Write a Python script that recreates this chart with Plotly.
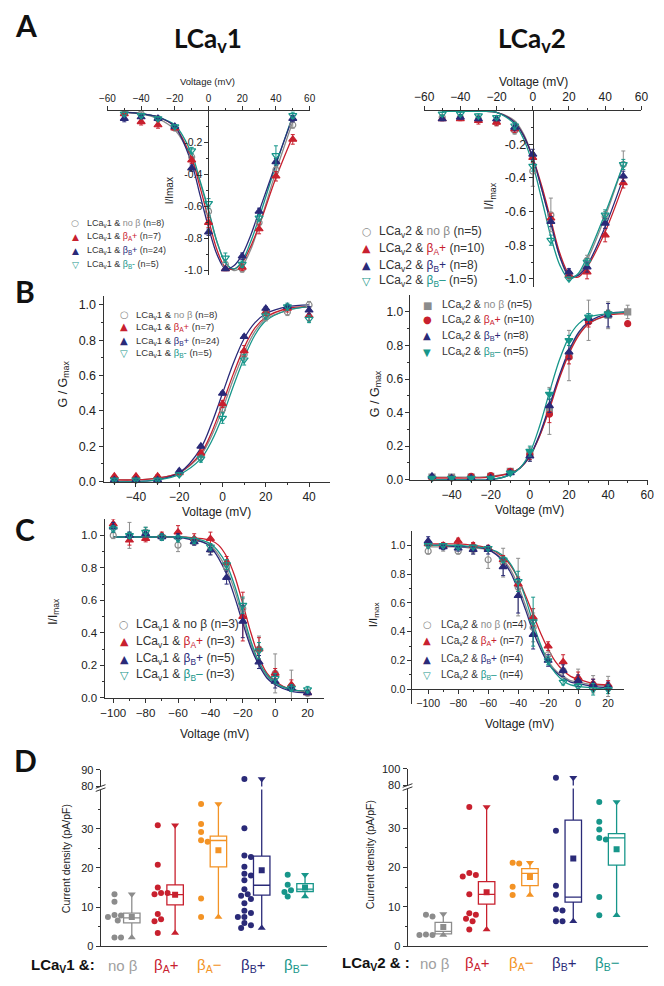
import plotly.graph_objects as go

W, H = 664, 986
FONT = "Liberation Sans, Arial, sans-serif"
BOLD = "Lato, Open Sans, sans-serif"
AX = "#333333"

GRAY = "#8c8c8c"
RED = "#c8202e"
ORANGE = "#f39325"
NAVY = "#2a2a78"
TEAL = "#17968a"

# ---------------- A: I-V curves ----------------
a_x = [-50, -40, -30, -20, -10, 0, 10, 20, 30, 40, 50]
a_cx = [-50, -40, -30, -20, -10, -5, 0, 5, 10, 15, 20, 25, 30, 40, 50]

a1_nob = [-0.02, -0.02, -0.05, -0.11, -0.29, -0.63, -0.96, -0.99, -0.70, -0.37, -0.09]
a1_bap = [-0.02, -0.07, -0.09, -0.11, -0.31, -0.70, -0.99, -0.98, -0.74, -0.41, -0.18]
a1_bbp = [-0.05, -0.04, -0.05, -0.10, -0.36, -0.76, -0.99, -0.91, -0.63, -0.32, -0.05]
a1_bbm = [-0.02, -0.03, -0.05, -0.10, -0.25, -0.58, -0.92, -0.96, -0.67, -0.28, -0.03]
a1_nob_e = [0.01, 0.01, 0.01, 0.01, 0.02, 0.03, 0.03, 0.02, 0.02, 0.02, 0.02]
a1_bap_e = [0.01, 0.02, 0.02, 0.01, 0.02, 0.03, 0.01, 0.02, 0.03, 0.03, 0.03]
a1_bbp_e = [0.02, 0.01, 0.01, 0.01, 0.02, 0.02, 0.01, 0.02, 0.02, 0.02, 0.02]
a1_bbm_e = [0.01, 0.01, 0.01, 0.01, 0.02, 0.03, 0.03, 0.02, 0.02, 0.06, 0.02]
a1_nob_fit = [-0.01, -0.02, -0.05, -0.12, -0.30, -0.45, -0.63, -0.82, -0.95, -1.0, -0.97, -0.87, -0.72, -0.38, -0.07]
a1_bap_fit = [-0.01, -0.02, -0.04, -0.10, -0.30, -0.48, -0.68, -0.87, -0.98, -0.99, -0.95, -0.85, -0.72, -0.42, -0.16]
a1_bbp_fit = [-0.01, -0.02, -0.04, -0.10, -0.33, -0.53, -0.73, -0.90, -0.99, -0.97, -0.90, -0.78, -0.63, -0.33, -0.04]
a1_bbm_fit = [-0.01, -0.02, -0.04, -0.09, -0.27, -0.44, -0.62, -0.82, -0.95, -0.99, -0.94, -0.82, -0.67, -0.34, -0.03]

a2_nob = [-0.04, -0.04, -0.05, -0.07, -0.12, -0.36, -0.62, -0.97, -0.89, -0.63, -0.32]
a2_bap = [-0.05, -0.05, -0.06, -0.07, -0.11, -0.28, -0.64, -0.98, -0.96, -0.74, -0.43]
a2_bbp = [-0.05, -0.04, -0.05, -0.05, -0.10, -0.26, -0.66, -0.96, -0.93, -0.67, -0.39]
a2_bbm = [-0.02, -0.02, -0.03, -0.04, -0.09, -0.33, -0.77, -1.0, -0.90, -0.62, -0.32]
a2_nob_e = [0.01, 0.01, 0.02, 0.02, 0.02, 0.09, 0.10, 0.02, 0.03, 0.03, 0.08]
a2_bap_e = [0.01, 0.01, 0.02, 0.02, 0.02, 0.03, 0.03, 0.02, 0.04, 0.04, 0.03]
a2_bbp_e = [0.01, 0.01, 0.01, 0.01, 0.02, 0.03, 0.03, 0.02, 0.03, 0.03, 0.03]
a2_bbm_e = [0.01, 0.01, 0.01, 0.01, 0.02, 0.03, 0.03, 0.01, 0.02, 0.03, 0.03]
a2_nob_fit = [-0.005, -0.005, -0.005, -0.01, -0.06, -0.14, -0.28, -0.47, -0.67, -0.87, -0.99, -0.98, -0.89, -0.63, -0.32]
a2_bap_fit = [-0.005, -0.005, -0.005, -0.01, -0.07, -0.15, -0.28, -0.45, -0.65, -0.85, -0.97, -0.99, -0.93, -0.72, -0.44]
a2_bbp_fit = [-0.005, -0.005, -0.005, -0.01, -0.07, -0.15, -0.28, -0.47, -0.67, -0.87, -0.98, -0.98, -0.92, -0.69, -0.40]
a2_bbm_fit = [-0.005, -0.005, -0.005, -0.01, -0.08, -0.17, -0.32, -0.53, -0.75, -0.92, -1.0, -0.97, -0.87, -0.61, -0.32]

# ---------------- B: activation ----------------
b1_x = [-50, -40, -30, -20, -10, 0, 10, 20, 30, 40]
b1_cx = [-50, -40, -30, -20, -10, -5, 0, 5, 10, 15, 20, 30, 40]
b1_nob = [0.01, 0.01, 0.01, 0.05, 0.14, 0.41, 0.72, 0.93, 0.96, 1.0]
b1_bap = [0.03, 0.03, 0.03, 0.05, 0.16, 0.44, 0.74, 0.96, 0.98, 0.94]
b1_bbp = [0.01, 0.01, 0.01, 0.06, 0.20, 0.50, 0.82, 0.98, 0.99, 0.97]
b1_bbm = [0.01, 0.01, 0.01, 0.04, 0.13, 0.36, 0.69, 0.94, 0.99, 0.92]
b1_nob_e = [0.005, 0.005, 0.005, 0.01, 0.02, 0.02, 0.03, 0.02, 0.02, 0.02]
b1_bap_e = [0.005, 0.005, 0.01, 0.01, 0.02, 0.02, 0.03, 0.02, 0.02, 0.03]
b1_bbp_e = [0.005, 0.005, 0.005, 0.01, 0.01, 0.01, 0.01, 0.01, 0.01, 0.02]
b1_bbm_e = [0.005, 0.005, 0.005, 0.01, 0.02, 0.03, 0.03, 0.02, 0.02, 0.02]
b1_nob_fit = [0.01, 0.01, 0.02, 0.05, 0.15, 0.26, 0.41, 0.58, 0.73, 0.85, 0.92, 0.97, 0.99]
b1_bap_fit = [0.01, 0.01, 0.02, 0.05, 0.16, 0.28, 0.44, 0.61, 0.76, 0.87, 0.93, 0.98, 0.99]
b1_bbp_fit = [0.0, 0.0, 0.01, 0.05, 0.19, 0.33, 0.50, 0.67, 0.81, 0.90, 0.95, 0.99, 1.0]
b1_bbm_fit = [0.0, 0.0, 0.01, 0.04, 0.13, 0.23, 0.37, 0.54, 0.70, 0.83, 0.91, 0.97, 0.99]

b2_x_long = [-50, -40, -30, -20, -10, 0, 10, 20, 30, 40, 50]
b2_x_short = [-50, -40, -30, -20, -10, 0, 10, 20, 30, 40]
b2_cx = [-50, -40, -30, -20, -10, -5, 0, 5, 10, 15, 20, 25, 30, 40, 50]
b2_nob = [0.015, 0.015, 0.015, 0.02, 0.05, 0.15, 0.41, 0.74, 0.95, 0.98, 1.0]
b2_bap = [0.01, 0.01, 0.02, 0.025, 0.05, 0.15, 0.39, 0.73, 0.94, 0.99, 0.93]
b2_bbp = [0.02, 0.01, 0.01, 0.01, 0.04, 0.14, 0.44, 0.76, 0.96, 0.98]
b2_bbm = [0.01, 0.01, 0.01, 0.01, 0.04, 0.17, 0.51, 0.83, 0.97, 0.99]
b2_nob_e = [0.005, 0.005, 0.005, 0.005, 0.01, 0.04, 0.14, 0.15, 0.12, 0.08, 0.04]
b2_bap_e = [0.005, 0.005, 0.005, 0.005, 0.01, 0.03, 0.05, 0.04, 0.03, 0.02, 0.0]
b2_bbp_e = [0.005, 0.005, 0.005, 0.005, 0.01, 0.03, 0.04, 0.04, 0.03, 0.07]
b2_bbm_e = [0.005, 0.005, 0.005, 0.005, 0.01, 0.03, 0.03, 0.03, 0.02, 0.02]
b2_nob_fit = [0.015, 0.015, 0.015, 0.02, 0.04, 0.07, 0.14, 0.26, 0.43, 0.61, 0.76, 0.87, 0.93, 0.98, 1.0]
b2_bap_fit = [0.01, 0.01, 0.01, 0.015, 0.04, 0.07, 0.14, 0.26, 0.42, 0.60, 0.75, 0.86, 0.93, 0.98, 0.99]
b2_bbp_fit = [0.0, 0.0, 0.0, 0.0, 0.03, 0.07, 0.14, 0.27, 0.44, 0.62, 0.77, 0.88, 0.94, 0.99, 1.0]
b2_bbm_fit = [0.0, 0.0, 0.0, 0.0, 0.03, 0.07, 0.16, 0.32, 0.52, 0.71, 0.85, 0.93, 0.97, 0.99, 1.0]

# ---------------- C: inactivation ----------------
c_x = [-100, -90, -80, -70, -60, -50, -40, -30, -20, -10, 0, 10, 20]
c_cx = [-100, -90, -80, -70, -60, -50, -45, -40, -35, -30, -25, -20, -15, -10, -5, 0, 10, 20]
c1_nob = [1.0, 1.0, 1.02, 0.99, 0.94, 0.96, 0.91, 0.80, 0.55, 0.30, 0.15, 0.07, 0.03]
c1_bap = [1.07, 0.97, 0.98, 1.0, 1.02, 0.98, 0.98, 0.83, 0.50, 0.30, 0.15, 0.08, 0.03]
c1_bbp = [1.05, 1.0, 1.01, 0.99, 0.99, 0.96, 0.91, 0.74, 0.47, 0.22, 0.10, 0.06, 0.03]
c1_bbm = [1.04, 1.0, 1.02, 0.99, 0.98, 0.97, 0.93, 0.82, 0.57, 0.29, 0.12, 0.06, 0.05]
c1_nob_e = [0.02, 0.08, 0.03, 0.02, 0.04, 0.02, 0.03, 0.05, 0.06, 0.08, 0.12, 0.10, 0.02]
c1_bap_e = [0.03, 0.03, 0.02, 0.02, 0.04, 0.03, 0.04, 0.04, 0.15, 0.07, 0.03, 0.03, 0.01]
c1_bbp_e = [0.03, 0.02, 0.02, 0.02, 0.02, 0.02, 0.03, 0.04, 0.10, 0.04, 0.04, 0.02, 0.01]
c1_bbm_e = [0.02, 0.02, 0.03, 0.02, 0.02, 0.02, 0.02, 0.03, 0.05, 0.05, 0.03, 0.02, 0.02]
c1_nob_fit = [0.99, 0.99, 0.99, 0.99, 0.99, 0.98, 0.96, 0.94, 0.88, 0.79, 0.66, 0.49, 0.33, 0.21, 0.13, 0.09, 0.05, 0.04]
c1_bap_fit = [0.99, 0.99, 0.99, 0.99, 0.99, 0.985, 0.98, 0.97, 0.94, 0.87, 0.75, 0.58, 0.40, 0.25, 0.15, 0.10, 0.05, 0.04]
c1_bbp_fit = [0.99, 0.99, 0.99, 0.99, 0.99, 0.97, 0.96, 0.93, 0.86, 0.76, 0.62, 0.46, 0.31, 0.20, 0.12, 0.08, 0.04, 0.03]
c1_bbm_fit = [0.99, 0.99, 0.99, 0.99, 0.99, 0.98, 0.97, 0.95, 0.90, 0.82, 0.69, 0.52, 0.35, 0.22, 0.14, 0.09, 0.05, 0.04]

c2_nob = [0.96, 0.99, 0.96, 0.97, 0.90, 0.88, 0.71, 0.43, 0.24, 0.13, 0.07, 0.035, 0.02]
c2_bap = [1.01, 1.0, 1.03, 1.0, 0.98, 0.90, 0.73, 0.50, 0.30, 0.19, 0.08, 0.04, 0.03]
c2_bbp = [1.03, 0.99, 0.98, 0.97, 0.97, 0.85, 0.65, 0.38, 0.20, 0.13, 0.06, 0.03, 0.02]
c2_bbm = [1.0, 1.0, 0.99, 0.99, 0.98, 0.90, 0.75, 0.47, 0.20, 0.05, 0.02, 0.0, 0.0]
c2_nob_e = [0.02, 0.03, 0.02, 0.03, 0.06, 0.10, 0.20, 0.10, 0.05, 0.05, 0.07, 0.06, 0.07]
c2_bap_e = [0.02, 0.02, 0.02, 0.02, 0.02, 0.03, 0.05, 0.06, 0.03, 0.05, 0.04, 0.03, 0.03]
c2_bbp_e = [0.03, 0.02, 0.02, 0.03, 0.03, 0.06, 0.12, 0.10, 0.04, 0.04, 0.04, 0.04, 0.03]
c2_bbm_e = [0.01, 0.01, 0.01, 0.01, 0.01, 0.02, 0.07, 0.17, 0.03, 0.02, 0.02, 0.04, 0.03]
c2_nob_fit = [0.99, 0.99, 0.99, 0.98, 0.97, 0.90, 0.83, 0.72, 0.58, 0.43, 0.30, 0.20, 0.13, 0.09, 0.06, 0.05, 0.03, 0.02]
c2_bap_fit = [1.01, 1.01, 1.01, 1.0, 0.98, 0.92, 0.86, 0.77, 0.65, 0.52, 0.39, 0.28, 0.19, 0.13, 0.09, 0.07, 0.04, 0.03]
c2_bbp_fit = [1.0, 1.0, 0.99, 0.99, 0.97, 0.89, 0.81, 0.69, 0.55, 0.40, 0.28, 0.18, 0.12, 0.08, 0.05, 0.04, 0.02, 0.01]
c2_bbm_fit = [1.0, 1.0, 1.0, 0.99, 0.98, 0.93, 0.87, 0.77, 0.63, 0.46, 0.31, 0.19, 0.11, 0.06, 0.03, 0.02, 0.01, 0.0]

# ---------------- D: current density ----------------
d_groups = ["no β", "β<sub>A</sub>+", "β<sub>A</sub>−", "β<sub>B</sub>+", "β<sub>B</sub>−"]
d_colors = [GRAY, RED, ORANGE, NAVY, TEAL]

d1_vals = [
    [13.3, 11.4, 8.0, 7.9, 7.5, 6.6, 2.3, 2.3],
    [30.9, 20.8, 15.0, 13.6, 13.3, 13.6, 8.3, 6.9, 6.4, 3.4],
    [36.3, 31.2, 29.2, 27.1, 26.7, 12.2, 7.5],
    [84.5, 30.1, 23.2, 22.8, 20.3, 18.5, 18.1, 16.9, 14.6, 13.3, 12.9, 12.1, 11.0,
     9.1, 8.5, 7.5, 7.5, 6.0, 5.4, 4.7],
    [18.3, 15.7, 14.3, 13.9, 12.7],
]
d1_q1 = [6.0, 10.6, 20.3, 13.1, 14.0]
d1_med = [7.3, 13.2, 27.0, 15.6, 14.6]
d1_q3 = [8.5, 15.7, 28.1, 23.0, 16.0]
d1_min = [2.3, 3.4, 7.5, 4.7, 12.7]
d1_max = [13.3, 30.9, 36.3, 84.5, 18.3]
d1_mean = [7.5, 13.2, 24.5, 19.4, 15.0]

d2_vals = [
    [8.0, 7.6, 3.0, 2.9, 2.9],
    [35.3, 18.6, 18.1, 17.7, 13.2, 8.4, 8.0, 7.0, 6.4, 4.3],
    [21.2, 21.0, 15.1, 13.0],
    [89.2, 29.3, 15.4, 13.1, 9.4, 9.1, 6.4, 6.4],
    [36.6, 31.6, 29.6, 27.5, 27.1, 12.5, 7.9],
]
d2_q1 = [3.2, 10.7, 15.4, 11.2, 20.6]
d2_med = [3.8, 13.2, 18.5, 12.5, 27.5]
d2_q3 = [6.1, 16.4, 19.7, 32.0, 28.6]
d2_min = [2.9, 4.3, 13.0, 6.4, 7.9]
d2_max = [8.2, 35.3, 21.2, 89.2, 36.6]
d2_mean = [4.9, 13.7, 17.6, 22.3, 24.6]


def fx(p):
    return p / W


def fy(p):
    return 1 - p / H


fig = go.Figure()


def curve(ax, x, y, color):
    fig.add_trace(go.Scatter(x=x, y=y, mode="lines", xaxis="x" + ax, yaxis="y" + ax,
                             line=dict(color=color, width=1.3, shape="spline", smoothing=0.9),
                             hoverinfo="skip", showlegend=False))


def points(ax, x, y, err, color, symbol, size=7):
    fig.add_trace(go.Scatter(x=x, y=y, mode="markers", xaxis="x" + ax, yaxis="y" + ax,
                             marker=dict(symbol=symbol, size=size, color=color,
                                         line=dict(color=color, width=1.2)),
                             error_y=dict(type="data", array=err, color=color, thickness=1, width=2),
                             cliponaxis=False, showlegend=False))


# A
for fit, c in [(a1_nob_fit, GRAY), (a1_bap_fit, RED), (a1_bbm_fit, TEAL), (a1_bbp_fit, NAVY)]:
    curve("", a_cx, fit, c)
points("", a_x, a1_nob, a1_nob_e, GRAY, "circle-open", 6)
points("", a_x, a1_bap, a1_bap_e, RED, "triangle-up")
points("", a_x, a1_bbp, a1_bbp_e, NAVY, "triangle-up")
points("", a_x, a1_bbm, a1_bbm_e, TEAL, "triangle-down-open")

for fit, c in [(a2_nob_fit, GRAY), (a2_bap_fit, RED), (a2_bbp_fit, NAVY), (a2_bbm_fit, TEAL)]:
    curve("2", a_cx, fit, c)
points("2", a_x, a2_nob, a2_nob_e, GRAY, "circle-open", 6)
points("2", a_x, a2_bap, a2_bap_e, RED, "triangle-up")
points("2", a_x, a2_bbp, a2_bbp_e, NAVY, "triangle-up")
points("2", a_x, a2_bbm, a2_bbm_e, TEAL, "triangle-down-open")

# B
for fit, c in [(b1_nob_fit, GRAY), (b1_bap_fit, RED), (b1_bbp_fit, NAVY), (b1_bbm_fit, TEAL)]:
    curve("3", b1_cx, fit, c)
points("3", b1_x, b1_nob, b1_nob_e, GRAY, "circle-open", 6)
points("3", b1_x, b1_bap, b1_bap_e, RED, "triangle-up")
points("3", b1_x, b1_bbp, b1_bbp_e, NAVY, "triangle-up")
points("3", b1_x, b1_bbm, b1_bbm_e, TEAL, "triangle-down-open")

for fit, c in [(b2_nob_fit, GRAY), (b2_bap_fit, RED), (b2_bbp_fit, NAVY), (b2_bbm_fit, TEAL)]:
    curve("4", b2_cx, fit, c)
points("4", b2_x_long, b2_nob, b2_nob_e, GRAY, "square", 6)
points("4", b2_x_long, b2_bap, b2_bap_e, RED, "circle", 6)
points("4", b2_x_short, b2_bbp, b2_bbp_e, NAVY, "triangle-up")
points("4", b2_x_short, b2_bbm, b2_bbm_e, TEAL, "triangle-down")

# C
for fit, c in [(c1_nob_fit, GRAY), (c1_bap_fit, RED), (c1_bbp_fit, NAVY), (c1_bbm_fit, TEAL)]:
    curve("5", c_cx, fit, c)
points("5", c_x, c1_nob, c1_nob_e, GRAY, "circle-open", 6)
points("5", c_x, c1_bap, c1_bap_e, RED, "triangle-up")
points("5", c_x, c1_bbp, c1_bbp_e, NAVY, "triangle-up")
points("5", c_x, c1_bbm, c1_bbm_e, TEAL, "triangle-down-open")

for fit, c in [(c2_nob_fit, GRAY), (c2_bap_fit, RED), (c2_bbp_fit, NAVY), (c2_bbm_fit, TEAL)]:
    curve("6", c_cx, fit, c)
points("6", c_x, c2_nob, c2_nob_e, GRAY, "circle-open", 6)
points("6", c_x, c2_bap, c2_bap_e, RED, "triangle-up")
points("6", c_x, c2_bbp, c2_bbp_e, NAVY, "triangle-up")
points("6", c_x, c2_bbm, c2_bbm_e, TEAL, "triangle-down-open")


# D: scatter dots in a simple beeswarm + box (quartiles, min/max whiskers, mean)
def swarm(values, unit_x, unit_y, diam=5.6):
    placed, offs = [], []
    step = diam * 0.6
    for v in values:
        yp = v * unit_y if v < 60 else 1e4 + v
        k = 0
        while True:
            o = ((k + 1) // 2) * step * (1 if k % 2 else -1)
            if all((o - a) ** 2 + (yp - b) ** 2 >= diam ** 2 for a, b in placed):
                break
            k += 1
        placed.append((o, yp))
        offs.append(o / unit_x)
    return offs


def panel_d(lo, hi, vals, q1, med, q3, mn, mx, mean, unit_x):
    for i, c in enumerate(d_colors):
        g = i + 1
        offs = swarm(vals[i], unit_x, 3.98)
        for ax in (lo, hi):
            keep = [(g - 0.2 + o, v) for o, v in zip(offs, vals[i]) if (v < 60) == (ax == lo)]
            if keep:
                fig.add_trace(go.Scatter(x=[k[0] for k in keep], y=[k[1] for k in keep], mode="markers",
                                         xaxis="x" + ax, yaxis="y" + ax, showlegend=False,
                                         marker=dict(symbol="circle", size=6, color=c)))
            fig.add_trace(go.Box(x=[g + 0.2], q1=[q1[i]], median=[med[i]], q3=[q3[i]],
                                 lowerfence=[mn[i]], upperfence=[mx[i]], width=0.38, whiskerwidth=0,
                                 line=dict(color=c, width=1.3), fillcolor="rgba(255,255,255,0.85)",
                                 boxpoints=False, xaxis="x" + ax, yaxis="y" + ax, showlegend=False))
            for val, sym in ((mx[i], "triangle-down"), (mn[i], "triangle-up")):
                if (val < 60) == (ax == lo):
                    fig.add_trace(go.Scatter(x=[g + 0.2], y=[val], mode="markers", xaxis="x" + ax,
                                             yaxis="y" + ax, showlegend=False, cliponaxis=False,
                                             marker=dict(symbol=sym, size=7, color=c)))
        fig.add_trace(go.Scatter(x=[g + 0.2], y=[mean[i]], mode="markers", xaxis="x" + lo,
                                 yaxis="y" + lo, showlegend=False,
                                 marker=dict(symbol="square", size=6, color=c)))


panel_d("7", "8", d1_vals, d1_q1, d1_med, d1_q3, d1_min, d1_max, d1_mean, 44.5)
panel_d("9", "10", d2_vals, d2_q1, d2_med, d2_q3, d2_min, d2_max, d2_mean, 44.4)


def axis(domain, rng, size=11, **kw):
    d = dict(domain=domain, range=rng, showline=True, linecolor=AX, linewidth=1, ticks="outside",
             ticklen=4, tickwidth=1, tickcolor=AX, showgrid=False, zeroline=False, fixedrange=True,
             tickfont=dict(family=FONT, size=size, color="#222"))
    d.update(kw)
    return d


def minor(vals):
    return dict(ticks="outside", ticklen=2, tickwidth=1, tickcolor=AX, showgrid=False,
                tickmode="array", tickvals=vals)


neg_vals = [-1.0, -0.8, -0.6, -0.4, -0.2]
neg_text = ["-1.0", "-0.8", "-0.6", "-0.4", "-0.2"]
neg_minor = [-0.9, -0.7, -0.5, -0.3, -0.1]
pos_vals = [0, 0.2, 0.4, 0.6, 0.8, 1.0]
pos_minor = [0.1, 0.3, 0.5, 0.7, 0.9]

layout = dict(
    width=W, height=H, margin=dict(l=0, r=0, t=0, b=0), paper_bgcolor="white",
    plot_bgcolor="rgba(0,0,0,0)", showlegend=False, font=dict(family=FONT, color="#222"),
    xaxis=axis([fx(100), fx(307.5)], [-60, 60], 10, anchor="y", side="top", tickmode="array",
               tickvals=[-60, -40, -20, 0, 20, 40, 60], minor=minor([-50, -30, -10, 10, 30, 50])),
    yaxis=axis([fy(273), fy(106)], [-1.03, 0], 10.5, anchor="free", position=fx(203.7), tickmode="array",
               tickvals=neg_vals, ticktext=neg_text, minor=minor(neg_minor)),
    xaxis2=axis([fx(425), fx(648)], [-60, 60], 12, anchor="y2", side="top", tickmode="array",
                tickvals=[-60, -40, -20, 0, 20, 40, 60], minor=minor([-50, -30, -10, 10, 30, 50])),
    yaxis2=axis([fy(285), fy(106)], [-1.05, 0], 12.5, anchor="free", position=fx(536.5), tickmode="array",
                tickvals=neg_vals, ticktext=neg_text, minor=minor(neg_minor)),
    xaxis3=axis([fx(96), fx(328)], [-55, 49.5], 12, anchor="y3", tickmode="array",
                tickvals=[-40, -20, 0, 20, 40], minor=minor([-50, -30, -10, 10, 30])),
    yaxis3=axis([fy(482), fy(294)], [0, 1.05], 12.5, anchor="x3", tickmode="array", tickvals=pos_vals,
                tickformat=".1f", minor=minor(pos_minor)),
    xaxis4=axis([fx(411), fx(655)], [-61, 60.5], 12, anchor="y4", tickmode="array",
                tickvals=[-40, -20, 0, 20, 40, 60], minor=minor([-50, -30, -10, 10, 30, 50])),
    yaxis4=axis([fy(480), fy(293)], [0, 1.1], 12, anchor="x4", tickmode="array", tickvals=pos_vals,
                tickformat=".1f", minor=minor(pos_minor)),
    xaxis5=axis([fx(97), fx(322)], [-105.4, 30], 11.5, anchor="y5", tickmode="array",
                tickvals=[-100, -80, -60, -40, -20, 0, 20], minor=minor([-90, -70, -50, -30, -10, 10])),
    yaxis5=axis([fy(701), fy(520)], [0, 1.1], 11.5, anchor="x5", tickmode="array", tickvals=pos_vals,
                tickformat=".1f", minor=minor(pos_minor)),
    xaxis6=axis([fx(413), fx(630)], [-110.5, 30.5], 10.5, anchor="free", position=fy(692.4), tickmode="array",
                tickvals=[-100, -80, -60, -40, -20, 0, 20], minor=minor([-90, -70, -50, -30, -10, 10])),
    yaxis6=axis([fy(707), fy(532)], [-0.1, 1.1], 10.5, anchor="x6", tickmode="array", tickvals=pos_vals,
                tickformat=".1f", minor=minor(pos_minor)),
    xaxis7=axis([fx(93), fx(325)], [0.48, 5.7], anchor="y7", ticks="", showticklabels=False),
    yaxis7=axis([fy(953), fy(794)], [0, 40], 11, anchor="x7", tickmode="array", tickvals=[0, 10, 20, 30],
                minor=minor([5, 15, 25, 35])),
    xaxis8=axis([fx(93), fx(325)], [0.48, 5.7], anchor="y8", visible=False),
    yaxis8=axis([fy(791), fy(774)], [80, 90], 11, anchor="x8", tickmode="array", tickvals=[80, 90]),
    xaxis9=axis([fx(408), fx(655)], [0.375, 5.93], anchor="y9", ticks="", showticklabels=False),
    yaxis9=axis([fy(953), fy(793)], [0, 40], 11, anchor="x9", tickmode="array", tickvals=[0, 10, 20, 30],
                minor=minor([5, 15, 25, 35])),
    xaxis10=axis([fx(408), fx(655)], [0.375, 5.93], anchor="y10", visible=False),
    yaxis10=axis([fy(790), fy(773)], [80, 100], 11, anchor="x10", tickmode="array", tickvals=[80, 100]),
)

ann = []


def note(text, x, y, size, color="#222", xanchor="center", angle=0, family=FONT, xref="paper"):
    ann.append(dict(text=text, x=fx(x) if xref == "paper" else x, y=fy(y), xref=xref, yref="paper",
                    showarrow=False, xanchor=xanchor, yanchor="middle", textangle=angle,
                    font=dict(family=family, size=size, color=color)))


# panel letters & titles
for letter, x, y in [("A", 3, 19), ("B", 3, 289), ("C", 3, 530), ("D", 2, 764)]:
    note(f"<b>{letter}</b>", x, y, 30, "#111", xanchor="left", family=BOLD)
note("<b>LCa<sub>v</sub>1</b>", 203, 34, 26, "#111", family=BOLD)
note("<b>LCa<sub>v</sub>2</b>", 536, 34, 26, "#111", family=BOLD)

# axis titles
note("Voltage (mV)", 203, 77, 9.5)
note("Voltage (mV)", 537, 77, 12)
note("I/Imax", 164, 187, 10, angle=-90)
note("I/I<sub>max</sub>", 493, 192, 12.5, angle=-90)
note("G / G<sub>max</sub>", 55, 383, 12.5, angle=-90)
note("Voltage (mV)", 212, 513, 12)
note("G / G<sub>max</sub>", 375, 393, 12.5, angle=-90)
note("Voltage (mV)", 533, 511, 12)
note("I/I<sub>max</sub>", 45, 613, 12, angle=-90)
note("Voltage (mV)", 210, 738, 12)
note("I/I<sub>max</sub>", 373, 617, 11.5, angle=-90)
note("Voltage (mV)", 523, 728, 12)
note("Current density (pA/pF)", 57, 864, 10.5, angle=-90)
note("Current density (pA/pF)", 369, 860, 10.5, angle=-90)


def span(t, c):
    return f"<span style='color:{c}'>{t}</span>"


def legend(lc, ns, glyphs, colors, gx, tx, ys, size, gsize, noc=GRAY, minus="-"):
    labels = ["no β", "β<sub>A</sub>+", "β<sub>B</sub>+", "β<sub>B</sub>" + minus]
    for lab, n, g, c, y in zip(labels, ns, glyphs, colors, ys):
        col = noc if lab == "no β" else c
        note(g, gx, y, gsize, c, family="DejaVu Sans")
        note(f"LCa<sub>v</sub>{lc} & {span(lab, col)} (n={n})", tx, y, size, "#333", xanchor="left")


cols4 = [GRAY, RED, NAVY, TEAL]
legend(1, [8, 7, 24, 5], ["○", "▲", "▲", "▽"], cols4, 67, 77, [220, 234, 248, 262], 9, 9)
legend(2, [5, 10, 8, 5], ["○", "▲", "▲", "▽"], cols4, 366, 377, [229, 246, 263, 279], 12, 11, minus="–")
legend(1, [8, 7, 24, 5], ["○", "▲", "▲", "▽"], cols4, 117, 127, [313, 325, 339, 352], 9.5, 10)
legend(2, [5, 10, 8, 5], ["■", "●", "▲", "▼"], cols4, 428, 441, [303, 318, 334, 351], 10.5, 10, minus="–")
legend(1, [3, 3, 5, 3], ["○", "▲", "▲", "▽"], cols4, 117, 127, [627, 644, 662, 678], 12, 11, noc="#333", minus="–")
legend(2, [4, 7, 4, 4], ["○", "▲", "▲", "▽"], cols4, 428, 440, [627, 643, 662, 678], 10, 10, minus="–")

# D category labels
note("<b>LCa<sub>V</sub>1 &:</b>", 54, 972, 15, "#111")
note("<b>LCa<sub>V</sub>2 & :</b>", 376, 970, 15, "#111")
for i, (lab, c) in enumerate(zip(d_groups, d_colors)):
    c_lab = "#a0a0a0" if i == 0 else c
    note(lab, i + 1, 972, 15, c_lab, xref="x7")
    note(lab, i + 1, 970, 15, c_lab, xref="x9")

layout["annotations"] = ann

# axis break marks
shapes = []
for x0, yb in [(93, 792.5), (408, 791.5)]:
    for dy in (-1.6, 1.6):
        shapes.append(dict(type="line", xref="paper", yref="paper", x0=fx(x0 - 5), x1=fx(x0 + 5),
                           y0=fy(yb + dy + 1.8), y1=fy(yb + dy - 1.8), line=dict(color=AX, width=1)))
layout["shapes"] = shapes

fig.update_layout(**layout)
# the page's default body margin would push the 664x986 figure out of the window
fig.write_html("out.html", config={"displayModeBar": False},
               post_script="document.body.style.margin='0';")
